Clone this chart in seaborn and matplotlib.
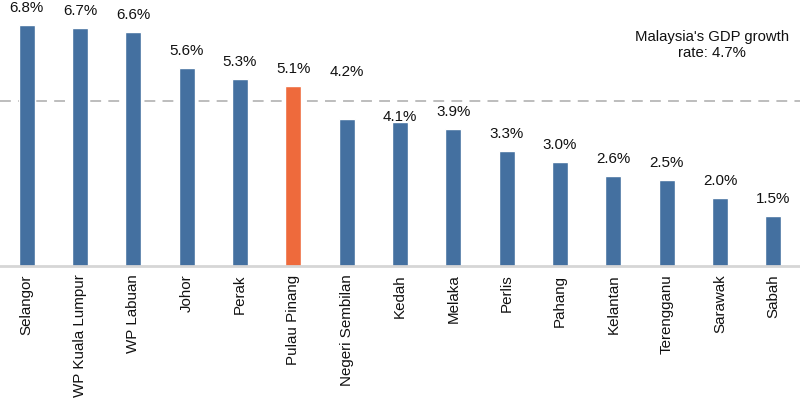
import matplotlib

matplotlib.use("Agg")
import seaborn as sns
import matplotlib.pyplot as plt
import pandas as pd

# GDP growth by state (%)
states = [
    "Selangor", "WP Kuala Lumpur", "WP Labuan", "Johor", "Perak",
    "Pulau Pinang", "Negeri Sembilan", "Kedah", "Melaka", "Perlis",
    "Pahang", "Kelantan", "Terengganu", "Sarawak", "Sabah",
]
growth = [6.8, 6.7, 6.6, 5.6, 5.3, 5.1, 4.2, 4.1, 3.9, 3.3, 3.0, 2.6, 2.5, 2.0, 1.5]
national_rate = 4.7
highlight = "Pulau Pinang"

BLUE = "#4470a0"
ORANGE = "#ee6a3c"

# label nudges (points above bar top) for the ones moved by hand in the original
label_nudge = {"Negeri Sembilan": 30.5, "Kedah": 1.0}

sns.set_theme(style="white")
plt.rcParams["font.family"] = ["Liberation Sans", "DejaVu Sans"]

df = pd.DataFrame({"state": states, "growth": growth})
palette = {s: (ORANGE if s == highlight else BLUE) for s in states}

fig = plt.figure(figsize=(8, 3.98), dpi=100)
ax = fig.add_axes([0, 0.3324, 1, 0.6676])

sns.barplot(
    data=df, x="state", y="growth", hue="state", palette=palette,
    legend=False, width=0.3, saturation=1, ax=ax,
)

ax.axhline(national_rate, color="#b8b8b8", lw=1.3, ls=(0, (6, 4)), zorder=0)

for i, (s, v) in enumerate(zip(states, growth)):
    ax.annotate(
        f"{v:.1f}%", xy=(i, v), xytext=(0, label_nudge.get(s, 9.5)),
        textcoords="offset points", ha="center", va="baseline",
        fontsize=10.9, color="#111111",
    )

ax.text(
    0.89, 0.831, f"Malaysia's GDP growth\nrate: {national_rate}%",
    transform=ax.transAxes, ha="center", va="center", multialignment="center",
    fontsize=10.7, color="#111111",
)

ax.set_xlim(-0.5, len(states) - 0.5)
ax.set_ylim(0.12, 7.49)
ax.set_xlabel("")
ax.set_ylabel("")
ax.set_yticks([])
ax.tick_params(axis="x", length=0, pad=6.5, labelsize=10.9, labelcolor="#111111")
plt.setp(ax.get_xticklabels(), rotation=90)

for side in ["top", "left", "right"]:
    ax.spines[side].set_visible(False)
ax.spines["bottom"].set_color("#d6d6d6")
ax.spines["bottom"].set_linewidth(2)

fig.savefig("out.png", dpi=100)
plt.close(fig)
